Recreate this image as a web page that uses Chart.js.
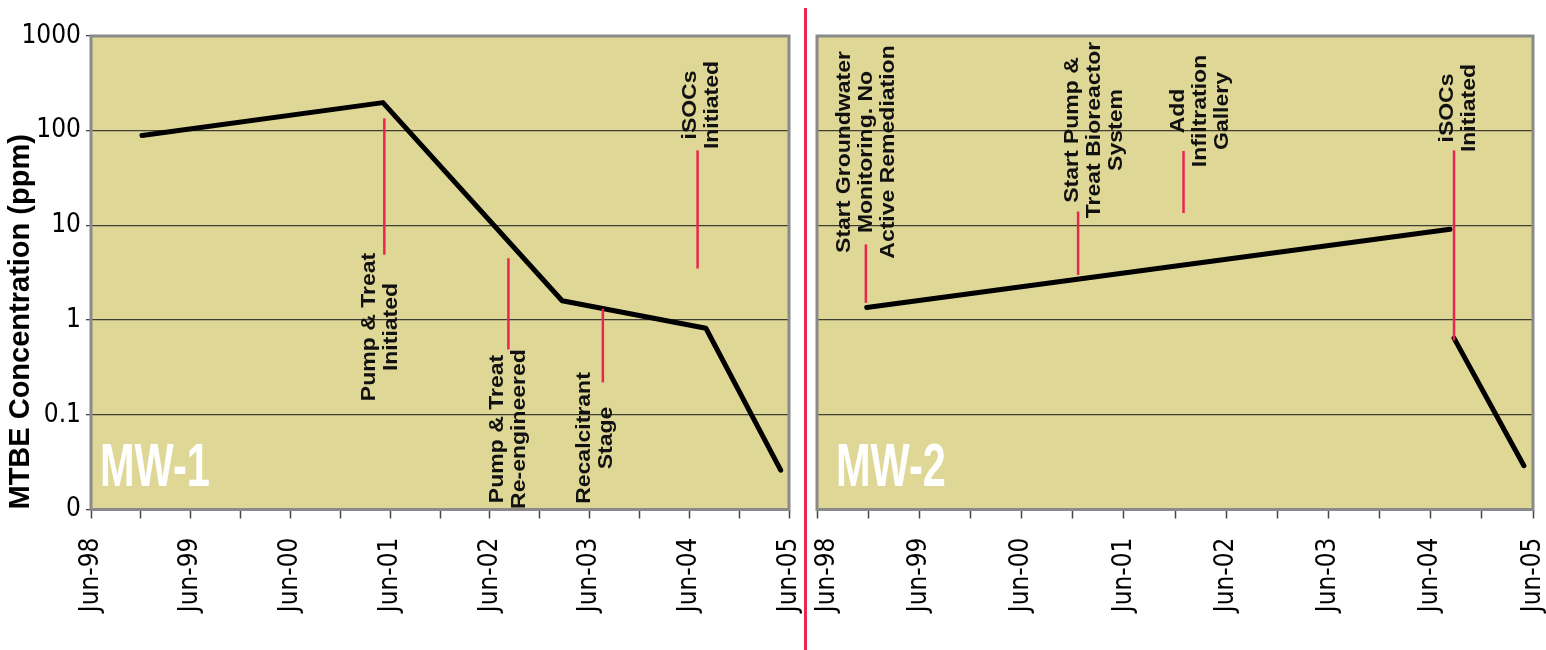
<!DOCTYPE html>
<html>
<head>
<meta charset="utf-8">
<script src="https://cdn.jsdelivr.net/npm/chart.js@4.4.1/dist/chart.umd.min.js"></script>
<style>
  body { margin: 0; background: #fff; width: 1546px; height: 650px; position: relative; overflow: hidden; }
  canvas { position: absolute; top: 0; }
  #mw1 { left: 0; }
  #mw2 { left: 808px; }
  .divider { position: absolute; left: 804px; top: 8px; width: 3px; height: 642px; background: #e8264f; }
</style>
</head>
<body>
<canvas id="mw1" width="804" height="650"></canvas>
<div class="divider"></div>
<canvas id="mw2" width="738" height="650"></canvas>
<script>
// MTBE readings (ppm), sample dates
const mw1Dates = ['1998-12-05', '2001-05-05', '2003-02-22', '2004-08-01', '2005-05-01'];
const mw1Values = [89, 198, 1.6, 0.82, 0.026];
const mw2Dates = ['1998-11-26', '2004-08-09', '2004-08-23', '2004-08-23', '2005-04-29'];
const mw2Values = [1.36, 9.1, null, 0.645, 0.029];

// remediation events: date, red marker top / bottom (ppm), label
const mw1EventDates = ['2001-05-10', '2002-08-08', '2003-07-19', '2004-07-01'];
const mw1EventTop = [135, 4.5, 1.32, 62];
const mw1EventBottom = [4.9, 0.49, 0.22, 3.5];
const mw1EventLabels = [
  ['Pump & Treat', 'Initiated'],
  ['Pump & Treat', 'Re-engineered'],
  ['Recalcitrant', 'Stage'],
  ['iSOCs', 'Initiated']
];
const mw2EventDates = ['1998-11-23', '2000-12-20', '2002-01-01', '2004-08-23'];
const mw2EventTop = [6.3, 14, 61, 62];
const mw2EventBottom = [1.52, 3.0, 13.5, 0.61];
const mw2EventLabels = [
  ['Start Groundwater', 'Monitoring. No', 'Active Remediation'],
  ['Start Pump &', 'Treat Bioreactor', 'System'],
  ['Add', 'Infiltration', 'Gallery'],
  ['iSOCs', 'Initiated']
];

const yTicks = [0.01, 0.1, 1, 10, 100, 1000];
const yTickLabels = ['0', '0.1', '1', '10', '100', '1000'];
const xTickLabels = ['Jun-98', 'Jun-99', 'Jun-00', 'Jun-01', 'Jun-02', 'Jun-03', 'Jun-04', 'Jun-05'];

// label placement: [x shift from marker, centre y on page]
const mw1LabelLayout = [[-4, 327], [0, 429], [-8, 438], [4, 105]];
const mw2LabelLayout = [[0, 152], [16, 130], [17, 111], [4, 108]];

const plotBg = '#ded796';
const markRed = '#e8264f';
const narrow = "'Liberation Sans Narrow', 'DejaVu Sans Condensed', 'Arial Narrow', sans-serif";
const boldFont = "'Liberation Sans', Arial, Helvetica, sans-serif";

// months since 1 Jun 1998
function toMonths(s) {
  const [y, m, d] = s.split('-').map(Number);
  return (y - 1998) * 12 + (m - 6) + (d - 1) / 30;
}

const panelDecor = {
  id: 'panelDecor',
  beforeDraw(chart, args, o) {
    const { ctx, chartArea: a } = chart;
    // nudge first x label clear of the divider
    if (o.firstLabelShift) {
      const items = chart.scales.x.getLabelItems(a);
      if (items.length && !items[0].nudged) {
        items[0].options.translation[0] += o.firstLabelShift;
        items[0].nudged = true;
      }
    }
    ctx.save();
    ctx.fillStyle = plotBg;
    ctx.fillRect(a.left, a.top, a.width, a.height);
    ctx.restore();
  },
  beforeDatasetsDraw(chart) {
    const { ctx, chartArea: a } = chart;
    ctx.save();
    ctx.strokeStyle = '#8a8a8a';
    ctx.lineWidth = 3;
    ctx.strokeRect(a.left, a.top, a.width, a.height);
    ctx.restore();
  },
  afterDatasetsDraw(chart, args, o) {
    const { ctx, chartArea: a } = chart;
    const xs = chart.scales.x, ys = chart.scales.y;
    ctx.save();
    // event markers
    ctx.strokeStyle = markRed;
    ctx.lineWidth = 2.5;
    o.dates.forEach((d, i) => {
      const x = xs.getPixelForValue(toMonths(d));
      ctx.beginPath();
      ctx.moveTo(x, ys.getPixelForValue(o.top[i]));
      ctx.lineTo(x, ys.getPixelForValue(o.bottom[i]));
      ctx.stroke();
    });
    // event labels, rotated
    ctx.fillStyle = '#111';
    ctx.font = 'bold 23px ' + boldFont;
    ctx.textAlign = 'center';
    ctx.textBaseline = 'middle';
    o.labels.forEach((lines, i) => {
      const x = xs.getPixelForValue(toMonths(o.dates[i])) + o.layout[i][0];
      ctx.save();
      ctx.translate(x, o.layout[i][1]);
      ctx.rotate(-Math.PI / 2);
      ctx.scale(1, 0.9);
      lines.forEach((t, j) => ctx.fillText(t, 0, (j - (lines.length - 1) / 2) * 22 / 0.9));
      ctx.restore();
    });
    // well name
    ctx.fillStyle = '#fff';
    ctx.font = 'bold 62px ' + boldFont;
    ctx.textAlign = 'left';
    ctx.textBaseline = 'alphabetic';
    ctx.translate(a.left + o.nameX, a.bottom - 24);
    ctx.scale(0.67, 1);
    ctx.fillText(o.name, 0, 0);
    ctx.restore();
  }
};

function makePanel(id, dates, values, ev, showY) {
  const ctx = document.getElementById(id);
  return new Chart(ctx, {
    type: 'line',
    data: {
      datasets: [{
        data: dates.map((d, i) => ({ x: toMonths(d), y: values[i] })),
        borderColor: '#000',
        borderWidth: 5,
        pointRadius: 0,
        spanGaps: false,
        borderCapStyle: 'round',
        borderJoinStyle: 'round',
        tension: 0
      }]
    },
    options: {
      responsive: false,
      animation: false,
      devicePixelRatio: 1,
      layout: { padding: { top: 36, right: showY ? 15 : 13, left: 0, bottom: 0 } },
      plugins: {
        legend: { display: false },
        tooltip: { enabled: false },
        panelDecor: ev
      },
      scales: {
        x: {
          type: 'linear',
          min: 0,
          max: 84,
          afterBuildTicks: s => {
            s.ticks = [];
            for (let m = 0; m <= 84; m += 6) s.ticks.push({ value: m });
          },
          ticks: {
            autoSkip: false,
            minRotation: 90,
            maxRotation: 90,
            padding: 19,
            color: '#000',
            font: { family: narrow, size: 26 },
            callback: v => (v % 12 === 0 ? xTickLabels[v / 12] : '')
          },
          grid: { drawOnChartArea: false, drawTicks: true, tickLength: 9, tickColor: '#444', tickWidth: 1.5 },
          border: { display: false },
          afterFit: s => { s.height = 140.5; s.paddingLeft = 0; s.paddingRight = 0; }
        },
        y: {
          type: 'logarithmic',
          min: 0.01,
          max: 1000,
          afterBuildTicks: s => { s.ticks = yTicks.map(v => ({ value: v })); },
          ticks: {
            display: showY,
            padding: 5,
            color: '#000',
            font: { family: narrow, size: 26 },
            callback: (v, i) => yTickLabels[i]
          },
          grid: { color: '#3e3e34', lineWidth: 1.3, drawTicks: showY, tickLength: 5, tickColor: '#444' },
          border: { display: false },
          title: {
            display: showY,
            text: 'MTBE Concentration (ppm)',
            align: 'start',
            color: '#000',
            font: { family: boldFont, size: 29, weight: 'bold' },
            padding: { top: 4, bottom: 0 }
          },
          afterFit: s => { s.width = showY ? 91 : 9; }
        }
      }
    },
    plugins: [panelDecor]
  });
}

makePanel('mw1', mw1Dates, mw1Values, {
  dates: mw1EventDates, top: mw1EventTop, bottom: mw1EventBottom,
  labels: mw1EventLabels, layout: mw1LabelLayout, name: 'MW-1', nameX: 9
}, true);

makePanel('mw2', mw2Dates, mw2Values, {
  dates: mw2EventDates, top: mw2EventTop, bottom: mw2EventBottom,
  labels: mw2EventLabels, layout: mw2LabelLayout, name: 'MW-2', nameX: 19,
  firstLabelShift: 10
}, false);
</script>
</body>
</html>
